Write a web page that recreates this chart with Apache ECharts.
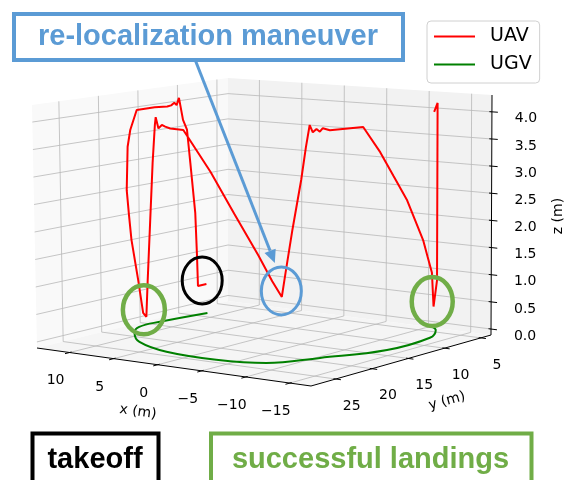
<!DOCTYPE html>
<html>
<head>
<meta charset="utf-8">
<script src="https://cdn.jsdelivr.net/npm/echarts@6/dist/echarts.min.js"></script>
<style>
  html, body { margin: 0; padding: 0; background: #fff; }
  #chart { width: 565px; height: 480px; }
</style>
</head>
<body>
<div id="chart"></div>
<script>
// ---- Flight data (metres) ----
// UAV trajectory: takeoff, first landing, re-localization dip, second landing, final climb
const uavX = [10.8, 10.8, 10.8, 10.8, 10.8, 10.8, 10.8, 10.8, 10.8, 10.8, 10.8, 10.8, 10.8, 10.8,
  10.4, 10.1, 9.2, 8.75, 8.2, 7.4, 6.7, 6.6,
  6.4, 5.7, 5.4, 5.3, 5.0, 4.44, 3.89, 3.06, 0.9,
  -0.6, -1.8, -3.1, -3.8, -4.3,
  -4.9, -6.05, -7.4, -8.2, -8.8, -8.97, -9.17, -9.35, -9.51, -9.89, -11.7,
  -11.8, -11.9, -12.0, -12.1, -12.2, -12.25, -12.3, -12.5,
  -12.9, -12.9, -12.5];
const uavY = [9.6, 10.7, 10.8, 11.0, 11.6, 12.0, 12.5, 13.0, 13.3, 13.6, 14.0, 14.5, 16.1, 18.4,
  19.7, 20.4, 21.6, 21.85, 22.2, 22.3, 22.5, 22.2,
  22.2, 22.2, 22.2, 22.2, 22.2, 22.4, 22.6, 22.9, 23.7,
  21.9, 20.2, 18.5, 17.5, 16.8,
  17.0, 17.4, 17.8, 18.1, 18.3, 18.08, 17.82, 17.58, 17.37, 16.87, 14.5,
  12.3, 10.6, 8.9, 7.9, 6.9, 6.35, 5.8, 5.8,
  5.8, 5.8, 5.8];
const uavZ = [0.5, 0.5, 1.06, 1.91, 2.89, 3.53, 3.73, 4.16, 4.03, 4.08, 4.04, 4.03, 4.05, 4.05,
  3.71, 3.42, 2.66, 2.2, 1.78, 1.06, 0.48, 0.4,
  1.08, 3.23, 3.93, 4.07, 3.87, 3.945, 3.925, 3.91, 3.93,
  3.15, 2.37, 1.58, 1.1, 0.8,
  1.25, 2.07, 3.0, 3.61, 4.02, 3.886, 3.943, 3.89, 3.95, 3.905, 3.93,
  3.42, 2.94, 2.46, 2.06, 1.66, 1.34, 1.02, 0.4,
  0.89, 4.17, 4.0];

// UGV ground path
const ugvX = [9.8, 10.7, 10.7, 9.3, 6.2, 1.3, -4.7, -9.4, -12.1, -15.1, -15.0, -13.2, -12.0];
const ugvY = [10.6, 15.8, 18.5, 20.7, 23.6, 25.7, 26.1, 24.9, 20.8, 15.2, 9.2, 6.3, 5.4];
const ugvZ = [0, 0, 0, 0, 0, 0, 0, 0, 0, 0, 0, 0, 0];

// Axis ticks
const xTicks = [10, 5, 0, -5, -10, -15];
const yTicks = [5, 10, 15, 20, 25];
const zTicks = [0, 0.5, 1, 1.5, 2, 2.5, 3, 3.5, 4];

// Key events along the UAV path (indices into the arrays above)
const takeoffIdx = 0, landing1Idx = 21, relocIdx = 35, landing2Idx = 54;

// ---- 3D box layout ----
const xLim = [-17.4, 13.7], yLim = [3.6, 28.4], zLim = [-0.11, 4.31];
// Screen position of the eight box corners, keyed by [u v w]:
// u: x from max to min, v: y from max to min, w: z from min to max
const boxCorners = {
  '000': [37, 348], '100': [311, 386], '110': [491, 335], '010': [228, 301],
  '001': [32, 105], '101': [312, 128], '111': [492, 95], '011': [228, 78]
};
function project(x, y, z) {
  const u = (xLim[1] - x) / (xLim[1] - xLim[0]);
  const v = (yLim[1] - y) / (yLim[1] - yLim[0]);
  const w = (z - zLim[0]) / (zLim[1] - zLim[0]);
  let px = 0, py = 0;
  for (const key in boxCorners) {
    const a = +key[0], b = +key[1], c = +key[2];
    const k = (a ? u : 1 - u) * (b ? v : 1 - v) * (c ? w : 1 - w);
    px += k * boxCorners[key][0];
    py += k * boxCorners[key][1];
  }
  return [px, py];
}

const chart = echarts.init(document.getElementById('chart'));
const uavPts = uavX.map((x, i) => project(x, uavY[i], uavZ[i]));
const ugvPts = ugvX.map((x, i) => project(x, ugvY[i], ugvZ[i]));

const tickFont = '14px "DejaVu Sans"';

chart.setOption({
  animation: false,
  grid: { left: 0, top: 0, width: 565, height: 480 },
  xAxis: { type: 'value', min: 0, max: 565, show: false },
  yAxis: { type: 'value', min: 0, max: 480, inverse: true, show: false },
  legend: {
    orient: 'vertical', left: 427, top: 21,
    padding: [6, 8, 9, 7], itemGap: 9, itemWidth: 41, itemHeight: 2,
    icon: 'rect',
    backgroundColor: '#fff', borderColor: '#d0d0d0', borderWidth: 1, borderRadius: 4,
    textStyle: { fontSize: 19, fontFamily: 'DejaVu Sans', color: '#000', padding: [0, 0, 0, 10] },
    data: ['UAV', 'UGV']
  },
  series: [
    { name: 'UAV', type: 'line', data: uavPts, showSymbol: false, symbol: 'none',
      lineStyle: { color: '#ff0000', width: 2 }, itemStyle: { color: '#ff0000' }, z: 3 },
    { name: 'UGV', type: 'line', data: ugvPts, smooth: 0.4, showSymbol: false, symbol: 'none',
      lineStyle: { color: '#008000', width: 2 }, itemStyle: { color: '#008000' }, z: 3 }
  ]
});

function px(x, y, z) {
  return chart.convertToPixel({ xAxisIndex: 0, yAxisIndex: 0 }, project(x, y, z));
}
const [x0, x1] = xLim, [y0, y1] = yLim, [z0, z1] = zLim;
const els = [];

// Panes
els.push({ type: 'polygon', z: 0, silent: true,
  shape: { points: [px(x1, y1, z0), px(x1, y0, z0), px(x1, y0, z1), px(x1, y1, z1)] },
  style: { fill: '#f9f9f9' } });
els.push({ type: 'polygon', z: 0, silent: true,
  shape: { points: [px(x1, y0, z0), px(x0, y0, z0), px(x0, y0, z1), px(x1, y0, z1)] },
  style: { fill: '#f2f2f2' } });
els.push({ type: 'polygon', z: 0, silent: true,
  shape: { points: [px(x1, y1, z0), px(x0, y1, z0), px(x0, y0, z0), px(x1, y0, z0)] },
  style: { fill: '#f5f5f5' } });

// Grid lines
const gridStyle = { stroke: '#b8b8b8', lineWidth: 0.8, fill: null };
zTicks.forEach(t => els.push({ type: 'polyline', z: 1, silent: true,
  shape: { points: [px(x1, y1, t), px(x1, y0, t), px(x0, y0, t)] }, style: gridStyle }));
yTicks.forEach(t => els.push({ type: 'polyline', z: 1, silent: true,
  shape: { points: [px(x0, t, z0), px(x1, t, z0), px(x1, t, z1)] }, style: gridStyle }));
xTicks.forEach(t => els.push({ type: 'polyline', z: 1, silent: true,
  shape: { points: [px(t, y1, z0), px(t, y0, z0), px(t, y0, z1)] }, style: gridStyle }));

// Axis lines
const axStyle = { stroke: '#000', lineWidth: 1, fill: null };
els.push({ type: 'polyline', z: 5, silent: true, shape: { points: [px(x1, y1, z0), px(x0, y1, z0)] }, style: axStyle });
els.push({ type: 'polyline', z: 5, silent: true, shape: { points: [px(x0, y1, z0), px(x0, y0, z0)] }, style: axStyle });
els.push({ type: 'polyline', z: 5, silent: true, shape: { points: [px(x0, y0, z0), px(x0, y0, z1)] }, style: axStyle });

const fmt = v => (v < 0 ? '\u2212' + Math.abs(v) : String(v));
// x ticks and labels
xTicks.forEach(t => {
  els.push({ type: 'polyline', z: 5, silent: true, shape: { points: [px(t, y1 - 0.25, z0), px(t, y1 + 0.6, z0)] }, style: axStyle });
  const p = px(t, y1, z0);
  els.push({ type: 'text', z: 5, silent: true, x: p[0] - 14, y: p[1] + 28.3,
    style: { text: fmt(t), font: tickFont, fill: '#000', align: 'center', verticalAlign: 'middle' } });
});
// y ticks and labels
yTicks.forEach(t => {
  els.push({ type: 'polyline', z: 5, silent: true, shape: { points: [px(x0 + 0.25, t, z0), px(x0 - 0.6, t, z0)] }, style: axStyle });
  const p = px(x0, t, z0);
  els.push({ type: 'text', z: 5, silent: true, x: p[0] + 16, y: p[1] + 27,
    style: { text: fmt(t), font: tickFont, fill: '#000', align: 'center', verticalAlign: 'middle' } });
});
// z ticks and labels
zTicks.forEach(t => {
  els.push({ type: 'polyline', z: 5, silent: true, shape: { points: [px(x0 + 0.3, y0, t), px(x0 - 0.7, y0, t)] }, style: axStyle });
  const p = px(x0, y0, t);
  els.push({ type: 'text', z: 5, silent: true, x: p[0] + 34, y: p[1] + 7,
    style: { text: t.toFixed(1), font: tickFont, fill: '#000', align: 'center', verticalAlign: 'middle' } });
});
// Axis titles
els.push({ type: 'text', z: 5, silent: true, x: 138, y: 412, rotation: -0.138,
  style: { text: 'x (m)', font: tickFont, fill: '#000', align: 'center', verticalAlign: 'middle' } });
els.push({ type: 'text', z: 5, silent: true, x: 447, y: 401, rotation: 0.27,
  style: { text: 'y (m)', font: tickFont, fill: '#000', align: 'center', verticalAlign: 'middle' } });
els.push({ type: 'text', z: 5, silent: true, x: 558, y: 216, rotation: Math.PI / 2,
  style: { text: 'z (m)', font: tickFont, fill: '#000', align: 'center', verticalAlign: 'middle' } });

// ---- Annotations ----
const blue = '#5b9bd5', green = '#70ad47';
const at = i => px(uavX[i], uavY[i], uavZ[i]);
const tk0 = at(takeoffIdx), tk1 = at(takeoffIdx + 1);
const tkC = [(tk0[0] + tk1[0]) / 2, (tk0[1] + tk1[1]) / 2 - 4.5];
els.push({ type: 'ellipse', z: 100, silent: true, shape: { cx: tkC[0], cy: tkC[1], rx: 20, ry: 23.5 },
  style: { fill: null, stroke: '#000', lineWidth: 3 } });
const rl = at(relocIdx);
els.push({ type: 'ellipse', z: 100, silent: true, shape: { cx: rl[0] - 0.5, cy: rl[1] - 6, rx: 20, ry: 24 },
  style: { fill: null, stroke: blue, lineWidth: 3 } });
const l1 = at(landing1Idx), l2 = at(landing2Idx);
els.push({ type: 'ellipse', z: 100, silent: true, shape: { cx: l1[0] - 2.5, cy: l1[1] - 7, rx: 21, ry: 24.5 },
  style: { fill: null, stroke: green, lineWidth: 4.5 } });
els.push({ type: 'ellipse', z: 100, silent: true, shape: { cx: l2[0] - 1.3, cy: l2[1] - 5, rx: 20.5, ry: 24.5 },
  style: { fill: null, stroke: green, lineWidth: 4.5 } });

// Arrow from the label box to the re-localization dip
const tip = [rl[0] - 7, rl[1] - 34];
const tail = [195.6, 61];
const dx = tip[0] - tail[0], dy = tip[1] - tail[1], len = Math.hypot(dx, dy);
const ux = dx / len, uy = dy / len, hl = 13, hw = 6;
const base = [tip[0] - ux * hl, tip[1] - uy * hl];
els.push({ type: 'line', z: 100, silent: true,
  shape: { x1: tail[0], y1: tail[1], x2: base[0], y2: base[1] },
  style: { stroke: blue, lineWidth: 3 } });
els.push({ type: 'polygon', z: 100, silent: true,
  shape: { points: [tip, [base[0] - uy * hw, base[1] + ux * hw], [base[0] + uy * hw, base[1] - ux * hw]] },
  style: { fill: blue } });

// Label boxes
els.push({ type: 'rect', z: 101, silent: true, shape: { x: 14, y: 14, width: 389, height: 46 },
  style: { fill: '#fff', stroke: blue, lineWidth: 4 } });
els.push({ type: 'text', z: 102, silent: true, x: 208, y: 37,
  style: { text: 're-localization maneuver', font: 'bold 29px "Liberation Sans"', fill: blue,
    align: 'center', verticalAlign: 'middle' } });

els.push({ type: 'rect', z: 101, silent: true, shape: { x: 32.5, y: 433.5, width: 126, height: 70 },
  style: { fill: '#fff', stroke: '#000', lineWidth: 4 } });
els.push({ type: 'text', z: 102, silent: true, x: 95, y: 460,
  style: { text: 'takeoff', font: 'bold 29px "Liberation Sans"', fill: '#000',
    align: 'center', verticalAlign: 'middle' } });

els.push({ type: 'rect', z: 101, silent: true, shape: { x: 211, y: 433.5, width: 320.5, height: 70 },
  style: { fill: '#fff', stroke: green, lineWidth: 4 } });
els.push({ type: 'text', z: 102, silent: true, x: 370.5, y: 460,
  style: { text: 'successful landings', font: 'bold 29px "Liberation Sans"', fill: green,
    align: 'center', verticalAlign: 'middle' } });

chart.setOption({ graphic: { elements: els } });
</script>
</body>
</html>
